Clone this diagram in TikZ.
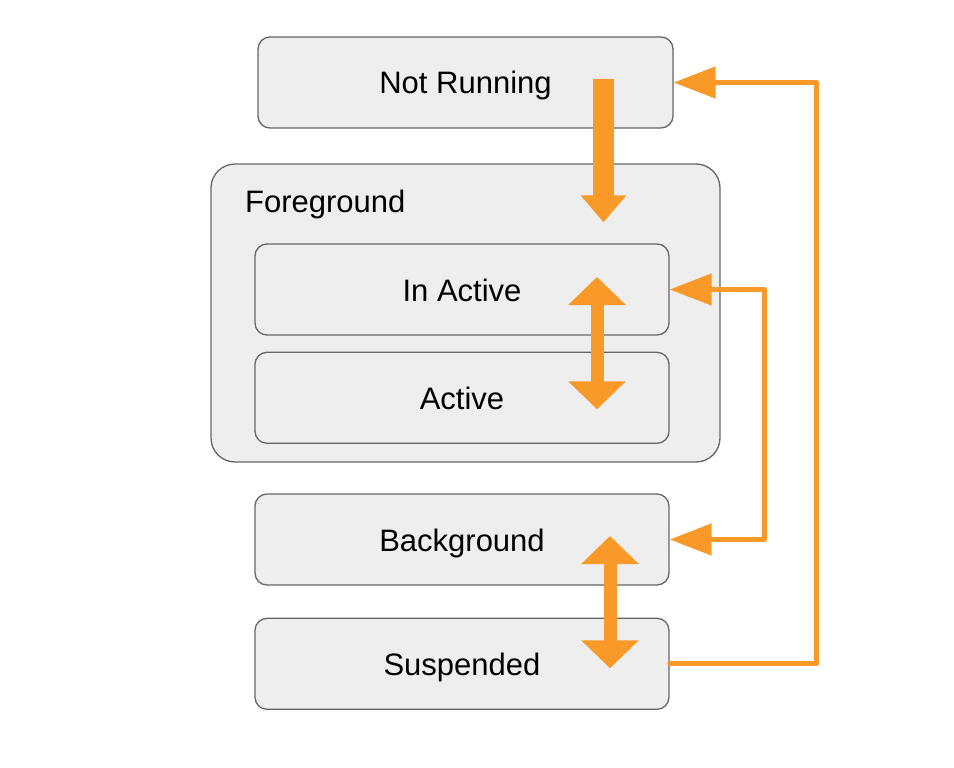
\documentclass[tikz,border=0pt]{standalone}
\usepackage{fontspec}
\setmainfont{Liberation Sans}
\usepackage{tikz}
\usetikzlibrary{arrows.meta, positioning}
\definecolor{floworange}{RGB}{249,154,40}
\definecolor{boxgray}{RGB}{238,238,238}
\definecolor{edgegray}{RGB}{102,102,102}

\begin{document}
\begin{tikzpicture}[
    x=1pt, y=-1pt,
    every node/.style={font=\fontsize{31}{37}\selectfont, text height=23pt, text depth=0pt},
    statebox/.style={rectangle, draw=edgegray, fill=boxgray, line width=1.3pt, rounded corners=12pt, minimum width=414pt, minimum height=91pt, inner sep=0pt},
    groupbox/.style={statebox, rounded corners=24pt, minimum width=509pt, minimum height=298pt},
    bigarrow/.style={draw=floworange, line width=21pt, -{Triangle[width=44pt, length=27pt]}},
    twoway/.style={draw=floworange, line width=13pt, {Triangle[width=56pt, length=28pt]}-{Triangle[width=56pt, length=28pt]}},
    backline/.style={draw=floworange, line width=5pt, line join=round, line cap=round},
    backtip/.tip={Triangle[width=31pt, length=42pt]}
]
\useasboundingbox (0,0) rectangle (954,768);

\node[statebox, minimum width=415pt] (notrun) at (465.5,82.5) {Not Running};

\node[groupbox] (fg) at (465.5,313) {};
\node[anchor=west, inner sep=0pt] (fglabel) at (245,201) {Foreground};
\node[statebox] (inact) at (462,289.5) {In Active};
\node[statebox, below=16pt of inact] (act) {Active};

\node[statebox] (bg) at (462,539.5) {Background};
\node[statebox, below=32pt of bg] (susp) {Suspended};

% launch
\draw[bigarrow] ([xshift=138pt, yshift=3.5pt]notrun.center) -- ([xshift=138pt, yshift=-59pt]fg.north);
% foreground states
\draw[twoway] ([xshift=135pt, yshift=12.5pt]inact.center) -- ([xshift=135pt, yshift=-11.5pt]act.center);
\draw[twoway] ([xshift=148pt, yshift=3.5pt]bg.center) -- ([xshift=148pt, yshift=-4.5pt]susp.center);
% back lines
\draw[backline, backtip-backtip] (inact.east) -- ++(95,0) |- (bg.east);
\draw[backline, -backtip] (susp.east) -- ++(147,0) |- (notrun.east);

\end{tikzpicture}
\end{document}
